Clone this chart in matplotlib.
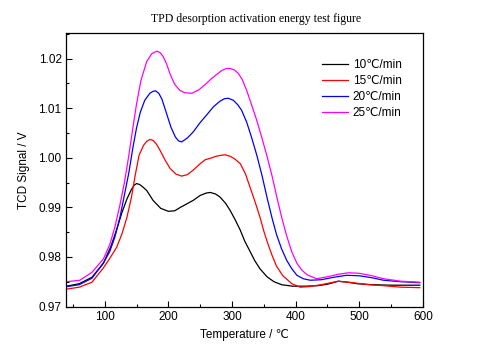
import matplotlib
matplotlib.use("Agg")
import matplotlib.pyplot as plt
from matplotlib.ticker import MultipleLocator

plt.rcParams['font.family'] = ['Liberation Sans', 'DejaVu Sans']

# heating rate 10 C/min
t10 = [40, 60, 80, 98, 110, 119, 127, 135, 142, 146, 150, 155, 160, 166, 176, 188, 200, 210,
       219, 229, 239, 250, 260, 266, 274, 281, 290, 297, 305, 313, 320, 328, 336, 344, 355, 366,
       378, 395, 415, 435, 450, 467, 482, 496, 520, 550, 575, 595]
s10 = [0.9741, 0.9746, 0.9759, 0.9787, 0.9822, 0.9856, 0.9889, 0.9917, 0.9936, 0.9944, 0.9948,
       0.9946, 0.9941, 0.9934, 0.9914, 0.9898, 0.9892, 0.9893, 0.9900, 0.9907, 0.9914, 0.9924,
       0.9929, 0.9930, 0.9927, 0.9921, 0.9908, 0.9894, 0.9875, 0.9854, 0.9832, 0.9812, 0.9792,
       0.9776, 0.9760, 0.9750, 0.9744, 0.9741, 0.9741, 0.9742, 0.9745, 0.9751, 0.9749, 0.9746,
       0.9744, 0.9743, 0.9743, 0.9743]

# 15 C/min
t15 = [40, 60, 80, 98, 108, 119, 127, 135, 142, 148, 154, 161, 166, 171, 176, 181, 187, 195,
       203, 212, 221, 230, 239, 250, 258, 266, 275, 283, 289, 297, 305, 313, 321, 328, 336, 344,
       350, 356, 363, 370, 380, 394, 407, 420, 440, 467, 490, 515, 538, 565, 595]
s15 = [0.9735, 0.9739, 0.9749, 0.9778, 0.9797, 0.9820, 0.9846, 0.9880, 0.9920, 0.9965, 1.0005,
       1.0025, 1.0033, 1.0037, 1.0035, 1.0028, 1.0015, 0.9995, 0.9978, 0.9967, 0.9963, 0.9966,
       0.9975, 0.9988, 0.9996, 0.9999, 1.0003, 1.0005, 1.0006, 1.0003, 0.9997, 0.9988, 0.9968,
       0.9942, 0.9912, 0.9880, 0.9852, 0.9828, 0.9803, 0.9781, 0.9762, 0.9746, 0.9739, 0.9740,
       0.9744, 0.9751, 0.9748, 0.9744, 0.9742, 0.9739, 0.9738]

# 20 C/min
t20 = [40, 60, 80, 98, 108, 116, 124, 131, 138, 144, 150, 156, 163, 171, 176, 180, 185, 190,
       197, 204, 211, 216, 221, 230, 239, 250, 260, 271, 281, 288, 294, 302, 309, 315, 323, 331,
       339, 347, 355, 363, 370, 378, 386, 394, 402, 412, 423, 440, 460, 480, 500, 520, 538, 565,
       595]
s20 = [0.9740, 0.9744, 0.9757, 0.9788, 0.9811, 0.9840, 0.9880, 0.9925, 0.9970, 1.0018, 1.0060,
       1.0092, 1.0116, 1.0130, 1.0134, 1.0135, 1.0130, 1.0118, 1.0090, 1.0062, 1.0042, 1.0034,
       1.0032, 1.0040, 1.0052, 1.0071, 1.0086, 1.0103, 1.0114, 1.0119, 1.0120, 1.0116, 1.0107,
       1.0096, 1.0072, 1.0040, 1.0005, 0.9965, 0.9920, 0.9878, 0.9845, 0.9816, 0.9793, 0.9776,
       0.9763, 0.9756, 0.9753, 0.9754, 0.9759, 0.9763, 0.9762, 0.9758, 0.9753, 0.9750, 0.9748]

# 25 C/min
t25 = [40, 61, 80, 98, 108, 116, 124, 131, 138, 144, 150, 157, 166, 174, 182, 187, 192, 197,
       203, 210, 218, 226, 237, 248, 260, 268, 276, 284, 291, 297, 304, 310, 316, 323, 331, 339,
       347, 355, 363, 370, 378, 386, 394, 402, 410, 418, 433, 450, 467, 483, 500, 520, 538, 565,
       595]
s25 = [0.9750, 0.9753, 0.9769, 0.9796, 0.9825, 0.9860, 0.9905, 0.9950, 1.0005, 1.0058, 1.0108,
       1.0156, 1.0194, 1.0210, 1.0215, 1.0212, 1.0204, 1.0190, 1.0168, 1.0148, 1.0136, 1.0131,
       1.0130, 1.0137, 1.0150, 1.0160, 1.0168, 1.0176, 1.0180, 1.0180, 1.0177, 1.0170, 1.0158,
       1.0136, 1.0106, 1.0075, 1.0040, 1.0003, 0.9963, 0.9923, 0.9880, 0.9842, 0.9810, 0.9787,
       0.9773, 0.9764, 0.9756, 0.9760, 0.9765, 0.9768, 0.9767, 0.9762, 0.9756, 0.9751, 0.9749]

labels = ["10℃/min", "15℃/min", "20℃/min", "25℃/min"]
colors = ["black", "red", "blue", "magenta"]

fig = plt.figure(figsize=(4.79, 3.56), dpi=100)
ax = fig.add_axes([0.1388, 0.139, 0.7442, 0.7675])

for t, s, lab, c in zip([t10, t15, t20, t25], [s10, s15, s20, s25], labels, colors):
    ax.plot(t, s, color=c, lw=0.9, label=lab)

ax.set_xlim(40, 600)
ax.set_ylim(0.97, 1.0251)
ax.xaxis.set_major_locator(MultipleLocator(100))
ax.xaxis.set_minor_locator(MultipleLocator(50))
ax.yaxis.set_major_locator(MultipleLocator(0.01))
ax.yaxis.set_minor_locator(MultipleLocator(0.005))
ax.yaxis.set_major_formatter(matplotlib.ticker.FormatStrFormatter('%.2f'))
ax.tick_params(which='both', direction='in', top=False, right=False, labelsize=8.5)
ax.tick_params(which='major', length=4, width=0.8)
ax.tick_params(which='minor', length=2.5, width=0.8)
for sp in ax.spines.values():
    sp.set_linewidth(0.9)

ax.set_xlabel("Temperature / ℃", fontsize=8.5, labelpad=4)
ax.set_ylabel("TCD Signal / V", fontsize=8.5, labelpad=6)
fig.text(0.535, 0.948, "TPD desorption activation energy test figure",
         family="Liberation Serif", fontsize=8.5, ha='center', va='center')

ax.legend(loc='upper left', bbox_to_anchor=(0.672, 0.834), bbox_transform=fig.transFigure,
          frameon=False, fontsize=8.5, handlelength=2.2, handletextpad=0.4,
          labelspacing=0.35, borderaxespad=0, borderpad=0)

fig.savefig("out.png", dpi=100)
